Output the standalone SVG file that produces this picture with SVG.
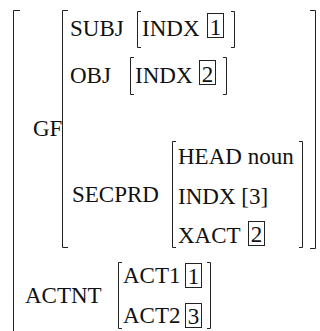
<svg xmlns="http://www.w3.org/2000/svg" width="320" height="331" viewBox="0 0 320 331">
<style>
.b{fill:none;stroke:#222;stroke-width:1}
</style>
<rect width="320" height="331" fill="#fff"/>
<g font-family="'Liberation Serif', 'Times New Roman', Times, serif" font-size="23" fill="#111">
<g id="outer"><path class="b" d="M20,10.5 H13.5 V331"/></g>
<g id="gf">
<text x="33" y="136">GF</text>
<path class="b" d="M68,10.5 H62.5 V247.5 H68"/>
<path class="b" d="M310,10.5 H315.5 V248.5 H310"/>
</g>
<g id="subj">
<text x="70" y="36">SUBJ</text>
<path class="b" d="M141,11.5 H137.5 V47.5 H141"/>
<text x="142" y="36">INDX</text>
<rect class="b" x="207.5" y="13.5" width="16" height="24"/>
<text x="215.5" y="35" text-anchor="middle">1</text>
<path class="b" d="M231,11.5 H234.5 V47.5 H231"/>
</g>
<g id="obj">
<text x="70" y="83">OBJ</text>
<path class="b" d="M134,57.5 H130.5 V94.5 H134"/>
<text x="135" y="83">INDX</text>
<rect class="b" x="199.5" y="60.5" width="16" height="24"/>
<text x="207.5" y="82" text-anchor="middle">2</text>
<path class="b" d="M223,57.5 H226.5 V94.5 H223"/>
</g>
<g id="secprd">
<text x="72" y="202">SECPRD</text>
<path class="b" d="M176,141.5 H172.5 V247.5 H176"/>
<text x="178" y="164">HEAD noun</text>
<text x="178" y="204">INDX [3]</text>
<text x="178" y="243">XACT</text>
<rect class="b" x="248.5" y="221.5" width="16" height="24"/>
<text x="256.5" y="242" text-anchor="middle">2</text>
<path class="b" d="M299,141.5 H302.5 V247.5 H299"/>
</g>
<g id="actnt">
<text x="25" y="303">ACTNT</text>
<path class="b" d="M122,262.5 H118.5 V328.5 H122"/>
<text x="123" y="283">ACT1</text>
<rect class="b" x="185.5" y="263.5" width="16" height="24"/>
<text x="193.5" y="284" text-anchor="middle">1</text>
<text x="123" y="323">ACT2</text>
<rect class="b" x="185.5" y="303.5" width="16" height="24"/>
<text x="193.5" y="324" text-anchor="middle">3</text>
<path class="b" d="M207,262.5 H210.5 V328.5 H207"/>
</g>
</g>
</svg>
